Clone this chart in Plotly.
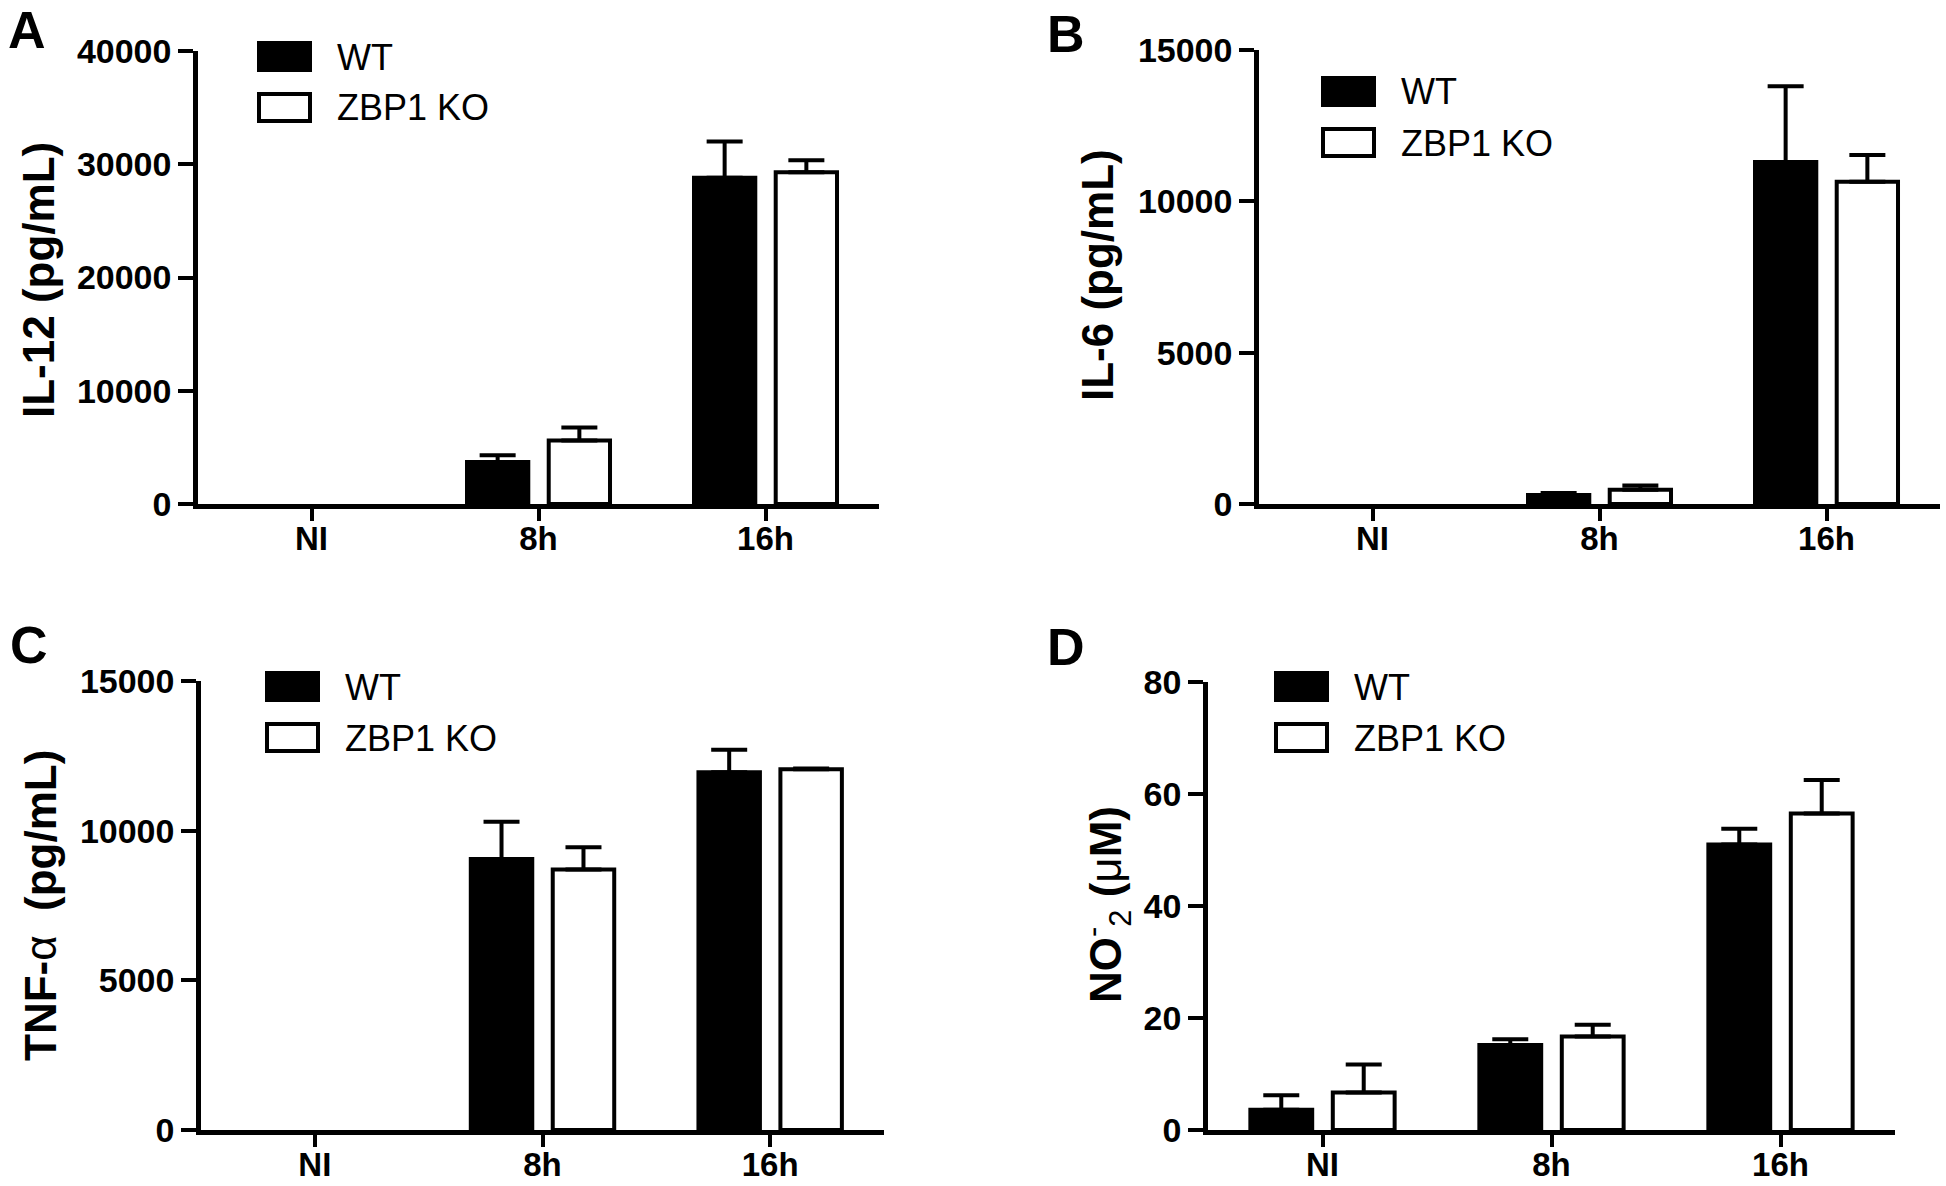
import plotly.graph_objects as go

# ---- data ----
categories = ['NI', '8h', '16h']
groups = ['WT', 'ZBP1 KO']

il12_wt = [None, 3700, 28800]
il12_wt_err = [0, 600, 3200]
il12_ko = [None, 5600, 29300]
il12_ko_err = [0, 1150, 1050]

il6_wt = [None, 300, 11300]
il6_wt_err = [0, 60, 2500]
il6_ko = [None, 470, 10650]
il6_ko_err = [0, 140, 880]

tnf_wt = [None, 9050, 11950]
tnf_wt_err = [0, 1250, 750]
tnf_ko = [None, 8700, 12050]
tnf_ko_err = [0, 750, 30]

no2_wt = [3.6, 15.2, 51.0]
no2_wt_err = [2.6, 1.0, 2.8]
no2_ko = [6.7, 16.7, 56.5]
no2_ko_err = [5.0, 2.1, 6.0]

W, H = 1946, 1186
FONT = 'Liberation Sans, Arial, sans-serif'


def fx(p):
    return p / W


def fy(p):
    return 1 - p / H


# panel layout in pixels: plot box (x0, x1, ytop, ybottom), legend box left/top, letter pos, title centre
panels = [
    dict(letter='A', title='<b>IL-12 (pg/mL)</b>', ymax=40000, dtick=10000,
         wt=il12_wt, wt_err=il12_wt_err, ko=il12_ko, ko_err=il12_ko_err,
         box=(198, 879, 51, 504), leg=(257, 41), lab=(6, 30), ttl=(39, 280)),
    dict(letter='B', title='<b>IL-6 (pg/mL)</b>', ymax=15000, dtick=5000,
         wt=il6_wt, wt_err=il6_wt_err, ko=il6_ko, ko_err=il6_ko_err,
         box=(1259, 1940, 50, 504), leg=(1321, 76), lab=(1045, 34), ttl=(1097, 275)),
    dict(letter='C', title='<b>TNF-</b>α<b>  (pg/mL)</b>', ymax=15000, dtick=5000,
         wt=tnf_wt, wt_err=tnf_wt_err, ko=tnf_ko, ko_err=tnf_ko_err,
         box=(201, 884, 681, 1130), leg=(265, 671), lab=(8, 645), ttl=(40, 906)),
    dict(letter='D', title='<b>NO</b><sup>-</sup><sub>2</sub><b> (</b>μ<b>M)</b>', ymax=80, dtick=20,
         wt=no2_wt, wt_err=no2_wt_err, ko=no2_ko, ko_err=no2_ko_err,
         box=(1208, 1895, 682, 1130), leg=(1274, 671), lab=(1045, 647), ttl=(1106, 905)),
]

fig = go.Figure()
shapes = []
annotations = []
layout = dict(
    template='none',
    width=W, height=H,
    margin=dict(l=0, r=0, t=0, b=0, pad=0),
    paper_bgcolor='white', plot_bgcolor='white',
    showlegend=False,
    barmode='group', bargap=0.28, bargroupgap=0.25,
    font=dict(family=FONT, color='black'),
)

for i, p in enumerate(panels):
    n = '' if i == 0 else str(i + 1)
    x0, x1, yt, yb = p['box']
    for grp, vals, errs, fill in [(groups[0], p['wt'], p['wt_err'], 'black'),
                                  (groups[1], p['ko'], p['ko_err'], 'white')]:
        fig.add_trace(go.Bar(
            x=categories, y=vals, name=grp,
            xaxis='x' + n, yaxis='y' + n,
            marker=dict(color=fill, line=dict(color='black', width=4)),
            error_y=dict(type='data', array=errs, arrayminus=[0] * len(errs),
                         symmetric=False, color='black', thickness=4, width=18),
        ))

    layout['xaxis' + n] = dict(
        domain=[fx(x0), fx(x1)], anchor='y' + n, type='category', automargin=False,
        range=[-0.5, 2.5], showline=True, linecolor='black', linewidth=4.5,
        ticks='outside', ticklen=12, tickwidth=4, tickcolor='black',
        ticklabelstandoff=-10,
        tickfont=dict(size=33, weight='bold', family=FONT),
        showgrid=False, zeroline=False, fixedrange=True,
    )
    layout['yaxis' + n] = dict(
        domain=[fy(yb), fy(yt)], anchor='x' + n, automargin=False,
        range=[0, p['ymax']], dtick=p['dtick'], tickformat='d', showline=True,
        linecolor='black', linewidth=4.5,
        ticks='outside', ticklen=15, tickwidth=3.5, tickcolor='black',
        tickfont=dict(size=34, weight='bold', family=FONT),
        showgrid=False, zeroline=False, fixedrange=True,
    )

    # panel letter
    lx, ly = p['lab']
    annotations.append(dict(text='<b>' + p['letter'] + '</b>', xref='paper', yref='paper',
                            x=fx(lx), y=fy(ly), xanchor='left', yanchor='middle',
                            showarrow=False, font=dict(size=52, family=FONT)))
    # y-axis title
    tx, ty = p['ttl']
    annotations.append(dict(text=p['title'], xref='paper', yref='paper',
                            x=fx(tx), y=fy(ty), xanchor='center', yanchor='middle',
                            textangle=-90, showarrow=False, font=dict(size=44, family=FONT)))
    # legend: swatch + label for each group
    gx, gy = p['leg']
    for k, (grp, fill) in enumerate(zip(groups, ['black', 'white'])):
        top = gy + k * 51
        shapes.append(dict(type='rect', xref='paper', yref='paper',
                           x0=fx(gx + 2), x1=fx(gx + 53), y0=fy(top + 29), y1=fy(top + 2),
                           fillcolor=fill, line=dict(color='black', width=4)))
        annotations.append(dict(text=grp, xref='paper', yref='paper',
                                x=fx(gx + 78), y=fy(top + 16), xanchor='left', yanchor='middle',
                                showarrow=False, font=dict(size=36, family=FONT)))

layout['shapes'] = shapes
layout['annotations'] = annotations
fig.update_layout(**layout)

fig.write_html('out.html', config={'displayModeBar': False},
               post_script="document.body.style.margin='0';")
